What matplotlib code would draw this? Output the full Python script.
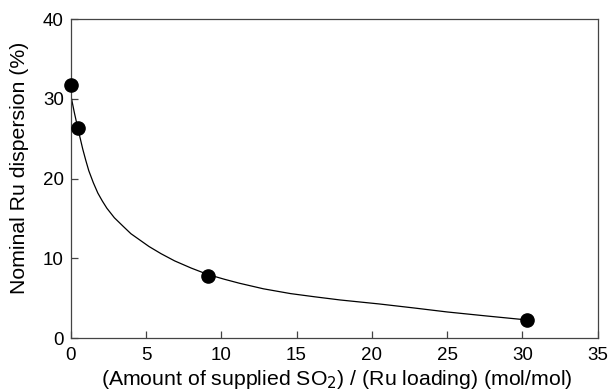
import matplotlib.pyplot as plt

plt.rcParams['font.family'] = ['Liberation Sans', 'DejaVu Sans']

# measured points
so2_ratio = [0.0, 0.5, 9.1, 30.3]
dispersion = [31.7, 26.4, 7.8, 2.3]

# guide curve
curve_x = [0.0, 0.25, 0.5, 0.8, 1.0, 1.2, 1.5, 1.8, 2.1, 2.4, 2.9, 3.5, 4.0,
           4.6, 5.2, 6.0, 6.9, 8.0, 9.1, 10.2, 11.2, 12.8, 14.6, 16.2, 17.9,
           20.5, 22.8, 25.0, 27.6, 30.3]
curve_y = [30.5, 28.2, 26.1, 23.7, 22.3, 21.0, 19.5, 18.2, 17.2, 16.3, 15.1,
           14.0, 13.1, 12.3, 11.5, 10.6, 9.7, 8.8, 8.0, 7.4, 6.9, 6.2, 5.6,
           5.2, 4.8, 4.3, 3.8, 3.3, 2.8, 2.3]

fig = plt.figure(figsize=(6.08, 3.92), dpi=100)
ax = fig.add_axes([0.1163, 0.137, 0.8667, 0.8145])

ax.plot(curve_x, curve_y, '-', color='black', linewidth=0.9)
ax.plot(so2_ratio, dispersion, 'o', color='black', markersize=9.5,
        clip_on=False, zorder=3)

ax.set_xlim(0, 35)
ax.set_ylim(0, 40)
ax.set_xticks(range(0, 36, 5))
ax.set_yticks(range(0, 41, 10))
ax.tick_params(direction='in', length=5, width=0.9, labelsize=13.5,
               color='#444444')
ax.tick_params(axis='x', pad=6)
ax.tick_params(axis='y', pad=5)
for s in ax.spines.values():
    s.set_color('#444444')
    s.set_linewidth(0.9)

ax.set_xlabel('(Amount of supplied SO$_2$) / (Ru loading) (mol/mol)',
              fontsize=15.3)
ax.set_ylabel('Nominal Ru dispersion (%)', fontsize=15.3)
ax.xaxis.set_label_coords(0.505, -0.093)
ax.yaxis.set_label_coords(-0.08, 0.533)

fig.savefig('out.png', dpi=100)
